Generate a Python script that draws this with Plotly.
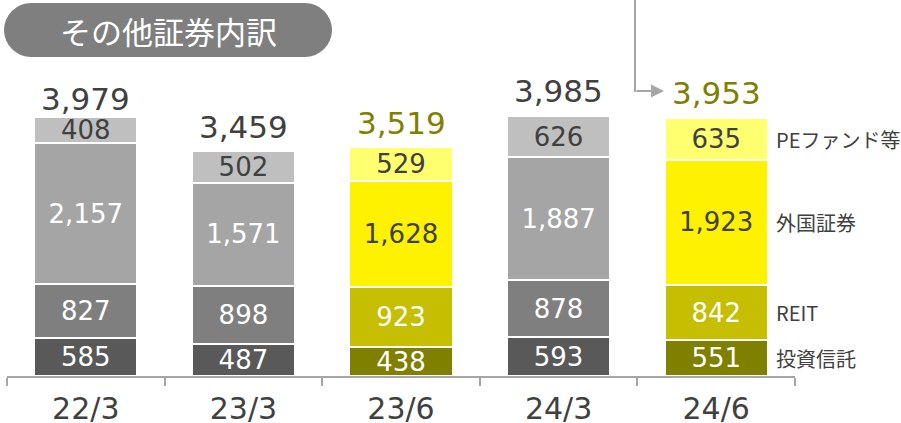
import plotly.graph_objects as go

# data
categories = ["22/3", "23/3", "23/6", "24/3", "24/6"]
is_quarter = [False, False, True, False, True]   # highlighted (yellow) bars
trust = [585, 487, 438, 593, 551]        # 投資信託
reit = [827, 898, 923, 878, 842]         # REIT
foreign = [2157, 1571, 1628, 1887, 1923]  # 外国証券
pe_fund = [408, 502, 529, 626, 635]      # PEファンド等
totals = [3979, 3459, 3519, 3985, 3953]
series_names = ["投資信託", "REIT", "外国証券", "PEファンド等"]

NUM_FONT = "DejaVu Sans, Noto Sans CJK JP"
JP_FONT = "Noto Sans CJK JP, DejaVu Sans"
DARK = "#404040"
OLIVE = "#7f7f00"
PILL = "#7f7f7f"

# colours per series: (grey bar, yellow bar), and text colour on each
grey_cols = ["#595959", "#7f7f7f", "#a5a5a5", "#bfbfbf"]
yellow_cols = ["#7f7f00", "#c6be00", "#fff200", "#ffff70"]
grey_txt = ["white", "white", "white", DARK]
yellow_txt = ["white", "white", DARK, DARK]

# pixel -> paper helpers (plot area spans x 7..795, y 50..376)
L, R, T, B = 7, 795, 50, 376
def px(x):
    return (x - L) / (R - L)
def py(y):
    return (B - y) / (B - T)

fig = go.Figure()
for i, (name, vals) in enumerate(zip(series_names, [trust, reit, foreign, pe_fund])):
    fig.add_trace(go.Bar(
        name=name,
        x=categories,
        y=vals,
        marker=dict(color=[yellow_cols[i] if q else grey_cols[i] for q in is_quarter],
                    line=dict(color="white", width=2)),
        text=[f"{v:,}" for v in vals],
        textposition="inside",
        insidetextanchor="middle",
        textangle=0,
        textfont=dict(family=NUM_FONT, size=26,
                      color=[yellow_txt[i] if q else grey_txt[i] for q in is_quarter]),
        hoverinfo="skip",
    ))

annotations = []
# totals above bars
shifts = [-2, 3, 4, 5, 5]
for c, t, q, s in zip(categories, totals, is_quarter, shifts):
    annotations.append(dict(x=c, y=t, xref="x", yref="y", text=f"{t:,}",
                            showarrow=False, xanchor="center", yanchor="bottom", yshift=s,
                            font=dict(family=NUM_FONT, size=31, color=OLIVE if q else DARK)))

# series labels to the right of the last bar
cum = 0
for name, vals in zip(series_names, [trust, reit, foreign, pe_fund]):
    mid = cum + vals[-1] / 2
    cum += vals[-1]
    annotations.append(dict(x=px(774), y=mid, xref="paper", yref="y", text=name,
                            showarrow=False, xanchor="left", yanchor="middle",
                            font=dict(family=JP_FONT, size=20, color=DARK)))

# title pill text
annotations.append(dict(x=px(168), y=py(31), xref="paper", yref="paper",
                        text="その他証券内訳", showarrow=False,
                        xanchor="center", yanchor="middle",
                        font=dict(family=JP_FONT, size=31, color="white")))

# arrow pointing to the latest total
annotations.append(dict(x=px(664), y=py(91), xref="paper", yref="paper",
                        ax=-29, ay=0, axref="pixel", ayref="pixel",
                        text="", showarrow=True, arrowhead=2, arrowsize=1.3,
                        arrowwidth=2, arrowcolor="#a6a6a6"))

shapes = [
    dict(type="rect", xref="paper", yref="paper", x0=px(31), x1=px(305), y0=py(57), y1=py(3),
         fillcolor=PILL, line=dict(width=0), layer="above"),
    dict(type="circle", xref="paper", yref="paper", x0=px(4), x1=px(58), y0=py(57), y1=py(3),
         fillcolor=PILL, line=dict(width=0), layer="above"),
    dict(type="circle", xref="paper", yref="paper", x0=px(278), x1=px(332), y0=py(57), y1=py(3),
         fillcolor=PILL, line=dict(width=0), layer="above"),
    dict(type="line", xref="paper", yref="paper", x0=px(635), x1=px(635), y0=py(92), y1=py(-2),
         line=dict(color="#a6a6a6", width=2)),
]

fig.update_layout(
    width=901, height=423,
    margin=dict(l=L, r=901 - R, t=T, b=423 - B, autoexpand=False),
    barmode="stack",
    bargap=0.345,
    showlegend=False,
    plot_bgcolor="rgba(0,0,0,0)",
    paper_bgcolor="white",
    uniformtext=dict(minsize=26, mode="show"),
    annotations=annotations,
    shapes=shapes,
    xaxis=dict(range=[-0.5, 4.5], showline=True, linecolor="#a6a6a6", linewidth=1.5,
               ticks="outside", tickson="boundaries", ticklen=8, tickcolor="#a6a6a6",
               tickwidth=1.5, ticklabelstandoff=5, automargin=False,
               tickfont=dict(family=NUM_FONT, size=30, color=DARK)),
    yaxis=dict(range=[0, 5000], visible=False, showgrid=False, fixedrange=True),
)

# the page's default body margin would shift the figure by 8px
fig.write_html("out.html", config={"displayModeBar": False},
               post_script="document.body.style.margin = '0';")
